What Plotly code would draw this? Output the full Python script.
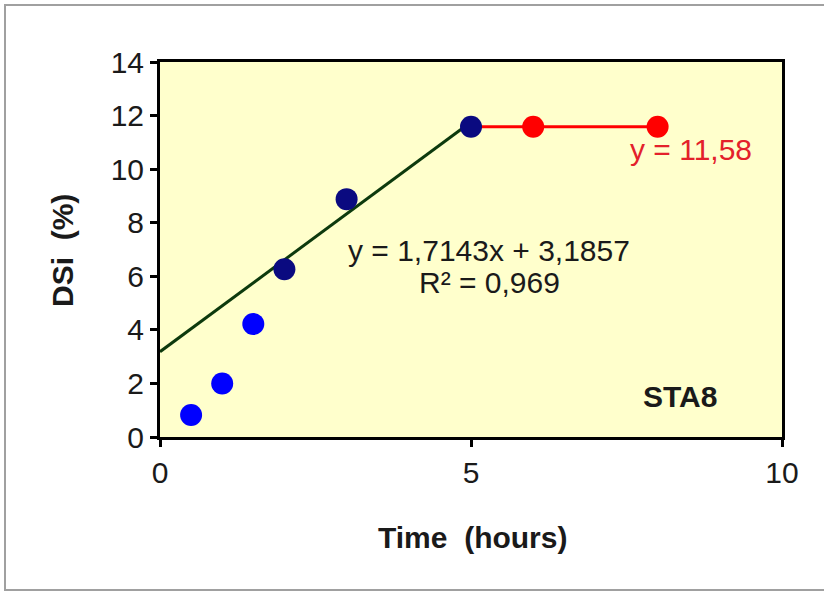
import plotly.graph_objects as go

# Data
x_early = [0.5, 1.0, 1.5]
y_early = [0.82, 2.0, 4.22]
x_fit = [2.0, 3.0, 5.0]
y_fit = [6.26, 8.88, 11.58]
x_plateau = [5.0, 6.0, 8.0]
y_plateau = [11.58, 11.58, 11.58]
slope = 1.7143
intercept = 3.1857
trend_x = [0.0, 5.0]

x_ticks = [0, 5, 10]
y_ticks = [0, 2, 4, 6, 8, 10, 12, 14]

FONT = "Liberation Sans, Arial, sans-serif"
TXT = "#1a1a1a"

fig = go.Figure()

# Linear trend line
fig.add_trace(go.Scatter(
    x=trend_x, y=[slope * v + intercept for v in trend_x],
    mode="lines", line=dict(color="#0d3a0d", width=3),
    showlegend=False, hoverinfo="skip"))

# Plateau line
fig.add_trace(go.Scatter(
    x=x_plateau, y=y_plateau, mode="lines",
    line=dict(color="#ff0000", width=3), showlegend=False))

fig.add_trace(go.Scatter(
    x=x_early, y=y_early, mode="markers",
    marker=dict(color="#0000ff", size=22), showlegend=False))

fig.add_trace(go.Scatter(
    x=x_fit, y=y_fit, mode="markers",
    marker=dict(color="#0a0a80", size=22), showlegend=False))

fig.add_trace(go.Scatter(
    x=x_plateau[1:], y=y_plateau[1:], mode="markers",
    marker=dict(color="#ff0000", size=22), showlegend=False))

annotations = [
    dict(x=8.54, y=10.75, xref="x", yref="y", showarrow=False,
         text="y = 11,58", font=dict(family=FONT, size=30, color="#e3212b")),
    dict(x=5.29, y=6.98, xref="x", yref="y", showarrow=False,
         text="y = 1,7143x + 3,1857", font=dict(family=FONT, size=30, color=TXT)),
    dict(x=5.29, y=5.75, xref="x", yref="y", showarrow=False,
         text="R² = 0,969", font=dict(family=FONT, size=30, color=TXT)),
    dict(x=8.36, y=1.53, xref="x", yref="y", showarrow=False,
         text="<b>STA8</b>", font=dict(family=FONT, size=30, color=TXT)),
    dict(x=(62 - 160) / 622, y=0.496, xref="paper", yref="paper", showarrow=False,
         xanchor="center", yanchor="middle",
         text="<b>DSi  (%)</b>", textangle=-90,
         font=dict(family=FONT, size=30, color=TXT)),
    dict(x=(472 - 160) / 622, y=-(537 - 437) / 375, xref="paper", yref="paper",
         xanchor="center", yanchor="middle",
         showarrow=False, text="<b>Time  (hours)</b>",
         font=dict(family=FONT, size=30, color=TXT)),
]

fig.update_layout(
    width=824, height=597,
    margin=dict(l=160, r=42, t=62, b=160),
    paper_bgcolor="white",
    plot_bgcolor="#ffffcc",
    annotations=annotations,
    shapes=[dict(type="rect", xref="paper", yref="paper",
                 x0=-155 / 622, x1=(840 - 160) / 622,
                 y0=-(590 - 437) / 375, y1=1 + (62 - 5) / 375,
                 line=dict(color="#a0a0a0", width=2), layer="below")],
)

fig.update_xaxes(
    range=[0, 10], tickvals=x_ticks, ticktext=[str(v) for v in x_ticks],
    showgrid=False, zeroline=False,
    showline=True, linecolor="black", linewidth=3, mirror=True,
    ticks="outside", ticklen=7, tickwidth=3, tickcolor="black",
    tickfont=dict(family=FONT, size=30, color=TXT))

fig.update_yaxes(
    range=[0, 14], tickvals=y_ticks, ticktext=[str(v) for v in y_ticks],
    showgrid=False, zeroline=False,
    showline=True, linecolor="black", linewidth=3, mirror=True,
    ticks="outside", ticklen=7, tickwidth=3, tickcolor="black",
    tickfont=dict(family=FONT, size=30, color=TXT))

fig.write_html("out.html")
